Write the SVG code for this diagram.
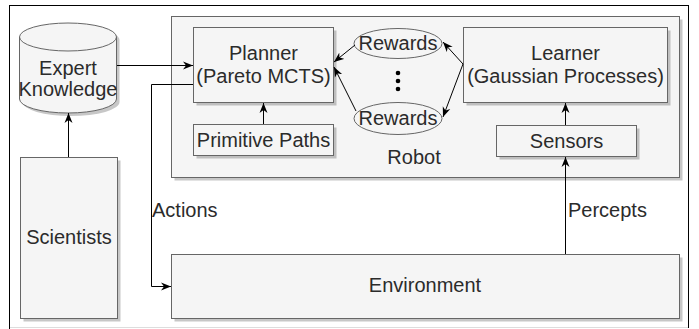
<svg xmlns="http://www.w3.org/2000/svg" width="699" height="329" viewBox="0 0 699 329">
<style>
.box{fill:#f5f5f5;stroke:#666666;stroke-width:1}
.sh{fill:#000;opacity:0.22}
.t{font-family:"Liberation Sans",Arial,sans-serif;font-size:20px;fill:#2b2b2b;text-anchor:middle}
.tl{font-family:"Liberation Sans",Arial,sans-serif;font-size:20px;fill:#2b2b2b;text-anchor:start}
.c{fill:none;stroke:#000;stroke-width:1}
</style>
<defs>
<marker id="a" markerUnits="userSpaceOnUse" markerWidth="11" markerHeight="9" refX="10" refY="4.5" orient="auto">
<path d="M0,0.5 L10,4.5 L0,8.5 L3,4.5 Z" fill="#000"/>
</marker>
</defs>
<rect width="699" height="329" fill="#ffffff"/>
<g id="frame">
<line x1="9" y1="5.5" x2="689" y2="5.5" stroke="#000"/>
<line x1="9.5" y1="5" x2="9.5" y2="329" stroke="#000"/>
<line x1="688.5" y1="5" x2="688.5" y2="328" stroke="#000"/>
<line x1="10" y1="327.5" x2="688" y2="327.5" stroke="#dddddd"/>
</g>
<g id="robot">
<rect class="sh" x="174.5" y="19.5" width="508" height="161"/>
<rect class="box" x="171.5" y="16.5" width="508" height="161"/>
<text class="t" x="414" y="164">Robot</text>
</g>
<g id="expert-knowledge">
<path class="sh" d="M22.5,40 a48.5,14 0 0 1 97,0 v62 a48.5,14 0 0 1 -97,0 Z"/>
<path class="box" d="M19.5,37 a48.5,14 0 0 1 97,0 v62 a48.5,14 0 0 1 -97,0 Z"/>
<path fill="none" stroke="#666666" d="M19.5,37 a48.5,14 0 0 0 97,0"/>
<text class="t" x="68" y="75">Expert</text>
<text class="t" x="68" y="96">Knowledge</text>
</g>
<g id="scientists">
<rect class="sh" x="23.5" y="160.5" width="97" height="161"/>
<rect class="box" x="20.5" y="157.5" width="97" height="161"/>
<text class="t" x="69" y="244">Scientists</text>
</g>
<g id="planner">
<rect class="sh" x="196.5" y="30.5" width="140" height="75"/>
<rect class="box" x="193.5" y="27.5" width="140" height="75"/>
<text class="t" x="263.5" y="60">Planner</text>
<text class="t" x="263.5" y="83">(Pareto MCTS)</text>
</g>
<g id="primitive-paths">
<rect class="sh" x="196.5" y="127.5" width="140" height="31"/>
<rect class="box" x="193.5" y="124.5" width="140" height="31"/>
<text class="t" x="263.5" y="147">Primitive Paths</text>
</g>
<g id="rewards-1">
<ellipse class="box" cx="398" cy="43.5" rx="44" ry="15"/>
<text class="t" x="398" y="50">Rewards</text>
</g>
<g id="dots">
<circle cx="398" cy="73" r="2.3" fill="#000"/>
<circle cx="398" cy="81" r="2.3" fill="#000"/>
<circle cx="398" cy="89" r="2.3" fill="#000"/>
</g>
<g id="rewards-2">
<ellipse class="box" cx="398" cy="118.5" rx="44" ry="16"/>
<text class="t" x="398" y="125">Rewards</text>
</g>
<g id="learner">
<rect class="sh" x="466.5" y="30.5" width="204" height="75"/>
<rect class="box" x="463.5" y="27.5" width="204" height="75"/>
<text class="t" x="565.5" y="60">Learner</text>
<text class="t" x="565.5" y="83">(Gaussian Processes)</text>
</g>
<g id="sensors">
<rect class="sh" x="499.5" y="128.5" width="140" height="31"/>
<rect class="box" x="496.5" y="125.5" width="140" height="31"/>
<text class="t" x="566.5" y="148">Sensors</text>
</g>
<g id="environment">
<rect class="sh" x="174.5" y="257.5" width="508" height="64"/>
<rect class="box" x="171.5" y="254.5" width="508" height="64"/>
<text class="t" x="425" y="292">Environment</text>
</g>
<g id="connectors">
<line class="c" x1="117" y1="65.5" x2="193" y2="65.5" marker-end="url(#a)"/>
<line class="c" x1="68.5" y1="157" x2="68.5" y2="113" marker-end="url(#a)"/>
<polyline class="c" points="193,84.5 151.5,84.5 151.5,286.5 171,286.5" marker-end="url(#a)"/>
<line class="c" x1="263.5" y1="124" x2="263.5" y2="103" marker-end="url(#a)"/>
<line class="c" x1="565.5" y1="254" x2="565.5" y2="157" marker-end="url(#a)"/>
<line class="c" x1="565.5" y1="125" x2="565.5" y2="103" marker-end="url(#a)"/>
<line class="c" x1="355" y1="45" x2="334" y2="62" marker-end="url(#a)"/>
<line class="c" x1="356" y1="111" x2="334" y2="67" marker-end="url(#a)"/>
<line class="c" x1="463" y1="64" x2="443" y2="42" marker-end="url(#a)"/>
<line class="c" x1="463" y1="64" x2="443" y2="117" marker-end="url(#a)"/>
<text class="tl" x="152" y="217">Actions</text>
<text class="tl" x="568" y="217">Percepts</text>
</g>
</svg>
